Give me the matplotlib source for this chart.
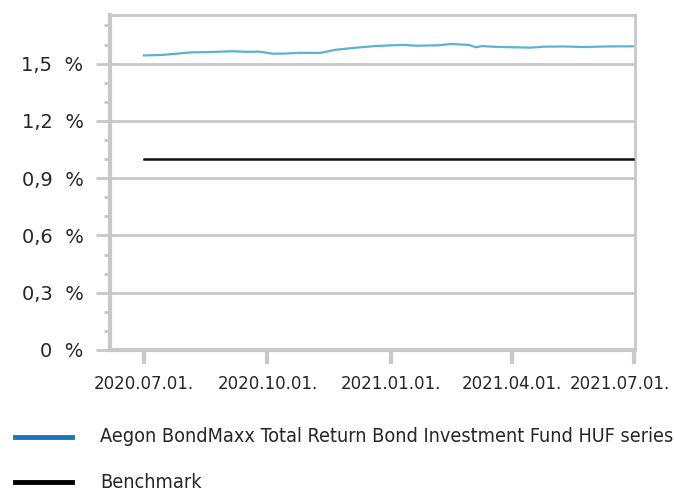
import numpy as np
import pandas as pd
import matplotlib
matplotlib.use("Agg")
import matplotlib.pyplot as plt
import matplotlib.transforms as mtrans
from matplotlib.ticker import FixedLocator, FuncFormatter
from matplotlib.lines import Line2D

# fund performance readings (annualised, %)
fund_dates = [
    "2020-07-01", "2020-07-15", "2020-07-25", "2020-08-05", "2020-08-20",
    "2020-09-05", "2020-09-15", "2020-09-25", "2020-10-05", "2020-10-15",
    "2020-10-25", "2020-11-05", "2020-11-10", "2020-11-20", "2020-12-05",
    "2020-12-20", "2021-01-01", "2021-01-10", "2021-01-20", "2021-02-05",
    "2021-02-15", "2021-02-28", "2021-03-05", "2021-03-10", "2021-03-20",
    "2021-04-01", "2021-04-15", "2021-04-25", "2021-05-10", "2021-05-25",
    "2021-06-10", "2021-06-30",
]
fund_values = [
    1.543, 1.546, 1.552, 1.559, 1.561,
    1.565, 1.562, 1.563, 1.552, 1.553,
    1.557, 1.556, 1.557, 1.572, 1.583,
    1.592, 1.596, 1.598, 1.594, 1.596,
    1.603, 1.598, 1.586, 1.592, 1.588,
    1.586, 1.584, 1.589, 1.590, 1.587,
    1.590, 1.591,
]
bench_dates = ["2020-07-01", "2021-06-30"]
bench_values = [1.0, 1.0]

tick_dates = ["2020-07-01", "2020-10-01", "2021-01-01", "2021-04-01", "2021-07-01"]
tick_labels = ["2020.07.01.", "2020.10.01.", "2021.01.01.", "2021.04.01.", "2021.07.01."]
y_major = [0, 0.3, 0.6, 0.9, 1.2, 1.5]

fund_name = "Aegon BondMaxx Total Return Bond Investment Fund HUF series"
bench_name = "Benchmark"

grey = "#c8c8c8"
txt = "#262626"

fig = plt.figure(figsize=(6.74, 4.91), dpi=100)
ax = fig.add_axes([0.1632, 0.2872, 0.7789, 0.6823])

fd = pd.to_datetime(fund_dates)
bd = pd.to_datetime(bench_dates)
ax.plot(fd, fund_values, color="#5ab4d0", lw=1.6, zorder=3)
ax.plot(bd, bench_values, color="#111111", lw=1.8, zorder=3)

ax.set_xlim(pd.Timestamp("2020-06-05 18:00"), pd.Timestamp("2021-07-01 16:00"))
ax.set_ylim(0, 1.755)

ax.yaxis.set_major_locator(FixedLocator(y_major))
ax.yaxis.set_minor_locator(FixedLocator(np.arange(0.1, 1.75, 0.1)))
ax.yaxis.set_major_formatter(FuncFormatter(lambda v, p: ("%g" % round(v, 1)).replace(".", ",") + "  %"))
ax.set_xticks(pd.to_datetime(tick_dates))
ax.set_xticklabels(tick_labels)

ax.grid(axis="y", which="major", color=grey, lw=2)
ax.set_axisbelow(True)
for side in ["left", "bottom"]:
    ax.spines[side].set_color(grey)
    ax.spines[side].set_linewidth(3)
for side in ["top", "right"]:
    ax.spines[side].set_color(grey)
    ax.spines[side].set_linewidth(2)

ax.tick_params(axis="y", which="major", length=10, width=2, color=grey,
               labelsize=14, labelcolor=txt, pad=9)
ax.tick_params(axis="y", which="minor", length=4, width=2, color=grey)
ax.tick_params(axis="x", which="major", length=10, width=3, color=grey,
               labelsize=12, labelcolor=txt, pad=8)
for lab in ax.get_xticklabels() + ax.get_yticklabels():
    lab.set_family("DejaVu Sans")

# last date label is pushed left so it stays inside the picture
last = ax.get_xticklabels()[-1]
last.set_horizontalalignment("right")
last.set_transform(last.get_transform() + mtrans.ScaledTranslation(0.36, 0, fig.dpi_scale_trans))

# legend drawn below the chart
entries = [(fund_name, "#1a75bb", 1 - 437 / 491), (bench_name, "#000000", 1 - 482 / 491)]
for name, col, yy in entries:
    fig.add_artist(Line2D([15 / 674, 72 / 674], [yy, yy], color=col, lw=3.5,
                          transform=fig.transFigure))
    fig.text(100 / 674, yy, name, color=txt, fontsize=14.2, family="DejaVu Sans",
             fontstretch="condensed", va="center", ha="left")

fig.savefig("out.png", dpi=100)
